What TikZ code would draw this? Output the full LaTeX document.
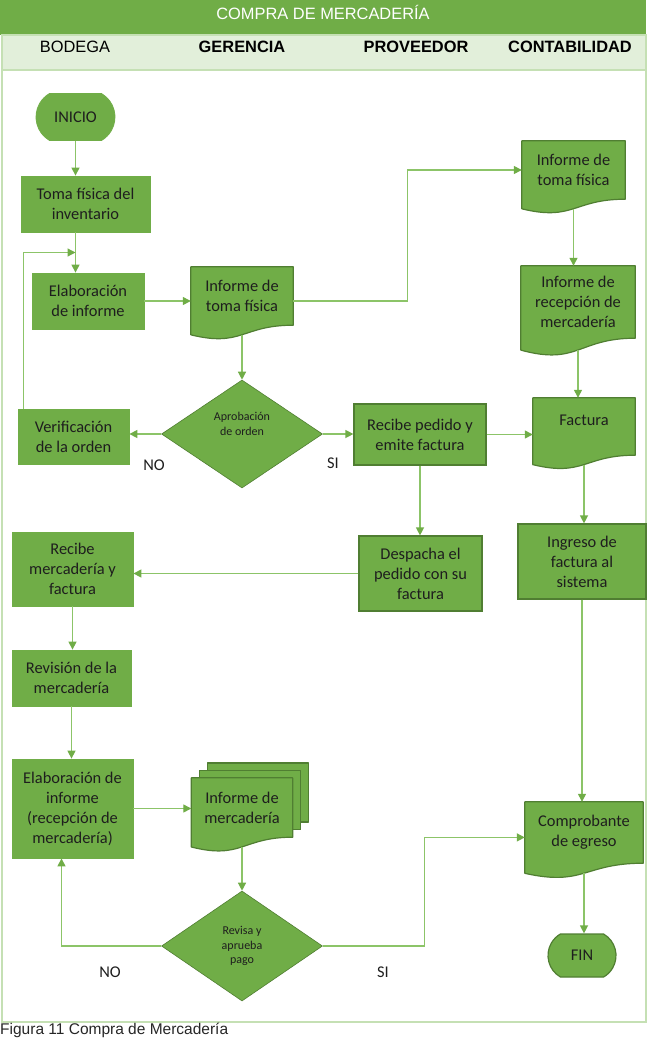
\documentclass[tikz,border=0pt]{standalone}
\usepackage{fontspec}
\setmainfont{Carlito}
\newfontfamily\arialfont{Liberation Sans}
\usetikzlibrary{arrows.meta,shapes.geometric,shapes.misc,calc}
\pgfdeclarelayer{back}
\pgfdeclarelayer{background}
\pgfsetlayers{back,background,main}

\definecolor{hdrgreen}{RGB}{112,173,71}
\definecolor{bandgreen}{RGB}{226,239,218}
\definecolor{framegreen}{RGB}{197,224,180}
\definecolor{boxgreen}{RGB}{112,173,71}
\definecolor{edgegreen}{RGB}{80,126,50}
\definecolor{linkgreen}{RGB}{140,196,104}
\definecolor{tipgreen}{RGB}{112,173,71}
\definecolor{inktext}{RGB}{30,30,30}

\newcommand\boxtext{\fontsize{16.4}{20}\selectfont}
\newcommand\dectext{\fontsize{12}{14.8}\selectfont}
\newcommand\hdrtext{\arialfont\fontsize{16.4}{20}\selectfont}

\tikzset{
  proc/.style={rectangle, fill=boxgreen, draw=boxgreen, line width=0.8pt,
    inner sep=0pt, text=inktext, align=center, font=\boxtext},
  procedge/.style={proc, draw=edgegreen, line width=1.2pt},
  docbox/.style={rectangle, inner sep=0pt, text=inktext, align=center, font=\boxtext},
  docshape/.style={fill=boxgreen, draw=edgegreen, line width=1.2pt, line join=round},
  decision/.style={diamond, fill=boxgreen, draw=edgegreen, line width=0.6pt,
    inner sep=0pt, minimum width=161pt, minimum height=108pt,
    text=inktext, align=center, font=\dectext},
  terminal/.style={rounded rectangle, rounded rectangle arc length=120,
    fill=boxgreen, draw=boxgreen, line width=0.8pt, inner sep=0pt,
    text=inktext, align=center, font=\boxtext},
  conn/.style={draw=linkgreen, line width=1.3pt,
    -{Triangle[length=8pt,width=8pt,color=tipgreen]}},
  note/.style={text=inktext, font=\boxtext, inner sep=0pt},
  lane/.style={text=black, font=\hdrtext, inner sep=0pt},
}

% document symbol: straight top and sides, wavy bottom edge
% #1 name, #2 centre, #3 width, #4 height of the straight part, #5 text
\newcommand\docnode[5]{%
  \node[docbox, minimum width=#3pt, minimum height=#4pt] (#1) at (#2) {#5};
  \coordinate (#1-b) at ($(#1.north)!1.163!(#1.south)$);
  \begin{pgfonlayer}{background}
    \draw[docshape] (#1.north west) -- (#1.north east) -- (#1.south east)
      .. controls (#1.south) and ($(#1.north)!1.381!(#1.south)$) ..
      ($(#1.north west)!1.1646!(#1.south west)$) -- cycle;
  \end{pgfonlayer}}

\begin{document}
\begin{tikzpicture}[x=1pt,y=-1pt]
\useasboundingbox (0,0) rectangle (648,1038);

% header and swim-lane frame
\fill[hdrgreen] (0,0) rectangle (646,35);
\fill[bandgreen] (2,35) rectangle (646,70);
\draw[framegreen, line width=1.2pt] (2,35) rectangle (646,1022);
\draw[framegreen, line width=1.2pt] (2,70) -- (646,70);
\node[lane, text=white] (title) at (323,12) {COMPRA DE MERCADERÍA};
\node[lane] (l1) at (75,47) {BODEGA};
\node[lane, font=\hdrtext\bfseries] (l2) at (242,47) {GERENCIA};
\node[lane, font=\hdrtext\bfseries] (l3) at (416,47) {PROVEEDOR};
\node[lane, font=\hdrtext\bfseries] (l4) at (570,47) {CONTABILIDAD};

% nodes
\node[terminal, minimum width=79pt, minimum height=47pt] (inicio) at (75.5,117) {INICIO};
\node[proc, minimum width=129pt, minimum height=56pt] (toma) at (85.5,204) {Toma física del\\inventario};
\node[proc, minimum width=112pt, minimum height=56pt] (elab) at (88,301) {Elaboración\\de informe};
\docnode{inf1}{242,296}{102}{58}{Informe de\\toma física}
\docnode{toprt}{573.5,170}{103}{58}{Informe de\\toma física}
\docnode{recep}{578,302}{114}{72}{Informe de\\recepción de\\mercadería}
\node[decision] (d1) at (242,434) {Aprobación\\de orden\\[6pt]};
\node[proc, minimum width=111pt, minimum height=55pt] (verif) at (73.5,436.5) {Verificación\\de la orden};
\node[procedge, minimum width=132pt, minimum height=61pt] (recped) at (420,434.5) {Recibe pedido y\\emite factura};
\docnode{fac}{584,426.5}{102}{57}{}
\node[note] (fac-t) at ($(fac.north)+(0,22)$) {Factura};
\node[procedge, minimum width=123pt, minimum height=75pt] (desp) at (420.5,573.5) {Despacha el\\pedido con su\\factura};
\node[proc, minimum width=121pt, minimum height=74pt] (recmerc) at (72.5,569) {Recibe\\mercadería y\\factura};
\node[procedge, minimum width=128pt, minimum height=75pt] (ingreso) at (582,561.5) {Ingreso de\\factura al\\sistema};
\node[proc, minimum width=119pt, minimum height=56pt] (revis) at (71.5,678) {Revisión de la\\mercadería};
\node[proc, minimum width=121pt, minimum height=99pt] (elab2) at (72.5,808.5) {Elaboración de\\informe\\(recepción de\\mercadería)};

% stacked pages behind the multi-document symbol
\begin{pgfonlayer}{back}
  \draw[docshape] (207.5,763) rectangle (308.5,822);
  \draw[docshape] (199.5,770.5) rectangle (300.5,829.5);
\end{pgfonlayer}
\docnode{md}{242,807.5}{101}{59}{Informe de\\mercadería}

\node[decision, minimum height=110pt] (d2) at (242,946) {Revisa y\\aprueba\\pago};
\docnode{compr}{584,832.5}{118}{61}{Comprobante\\de egreso}
\node[terminal, draw=edgegreen, line width=1.2pt, minimum width=68pt, minimum height=43pt] (fin) at (582,955.5) {FIN};

% branch labels
\node[note] (no1) at (154,465) {NO};
\node[note] (si1) at (333,463) {SI};
\node[note] (no2) at (110,972) {NO};
\node[note] (si2) at (383,972) {SI};

% connectors
\draw[conn] (inicio.south) -- (toma.north -| inicio.south);
\draw[conn] (toma.south -| inicio.south) -- (elab.north -| inicio.south);
\coordinate (join) at ($(toma.south -| inicio.south)!0.5!(elab.north -| inicio.south)$);
\draw[conn] ($(verif.north west)+(6,0)$) |- (join);
\draw[conn] (elab.east) -- (elab.east -| inf1.west);
\draw[conn] (inf1.east |- elab.east) -- ++(114,0) |- (toprt.west);
\draw[conn] (inf1-b) -- (d1.north);
\draw[conn] (d1.west) -- (d1.west -| verif.east);
\draw[conn] (d1.east) -- (d1.east -| recped.west);
\draw[conn] (recped.east) -- (recped.east -| fac.west);
\draw[conn] (toprt-b) -- (recep.north -| toprt-b);
\draw[conn] (recep-b) -- (fac.north -| recep-b);
\draw[conn] (recped.south) -- (desp.north -| recped.south);
\draw[conn] (desp.west) -- (desp.west -| recmerc.east);
\draw[conn] (fac-b) -- (ingreso.north -| fac-b);
\draw[conn] (recmerc.south) -- (revis.north -| recmerc.south);
\draw[conn] (revis.south) -- (elab2.north -| revis.south);
\draw[conn] (elab2.east) -- (elab2.east -| md.west);
\draw[conn] (md-b) -- (d2.north);
\draw[conn] (d2.west) -| ($(elab2.south)+(-11,0)$);
\draw[conn] (d2.east) -- ++(102,0) |- ($(compr.north west)!0.58!(compr.south west)$);
\draw[conn] (ingreso.south) -- (compr.north -| ingreso.south);
\draw[conn] (compr-b) -- (fin.north -| compr-b);

% caption
\node[anchor=base west, inner sep=0pt, text=black!85, font=\arialfont\fontsize{15.5}{19}\selectfont] (cap) at (0,1034) {Figura 11 Compra de Mercadería};
\end{tikzpicture}
\end{document}
